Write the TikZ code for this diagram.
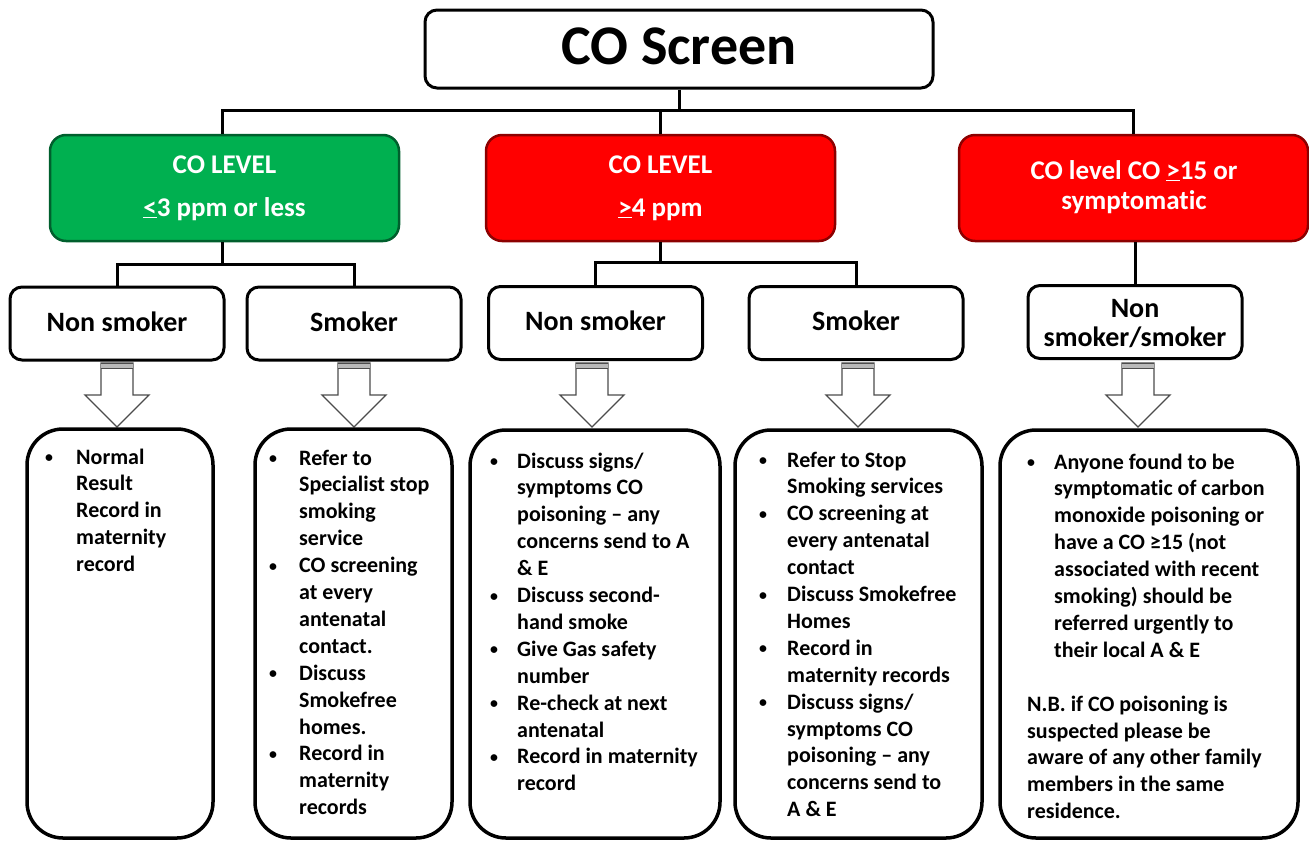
\documentclass[tikz,border=0pt]{standalone}
\usepackage{fontspec}
\setmainfont{Carlito}[Ligatures={TeX,NoCommon}]
\definecolor{cogreen}{RGB}{0,176,80}
\definecolor{cored}{RGB}{255,0,0}
\definecolor{cogreenedge}{RGB}{0,95,45}
\definecolor{crededge}{RGB}{140,0,0}
\newcommand{\bul}{\raisebox{1.5pt}{\scalebox{0.72}{\textbullet}}}
\newcommand{\restext}[1]{\fontsize{22pt}{26.9pt}\selectfont\bfseries
  \begin{tabular}[t]{@{}l@{}l@{}}#1\end{tabular}}
\begin{document}
\begin{tikzpicture}[x=1pt,y=-1pt,
  conn/.style={line width=3pt},
  topbox/.style={draw, line width=3pt, rounded corners=12pt, fill=white, inner sep=0pt},
  lvlbox/.style={line width=2.5pt, rounded corners=16pt, inner sep=0pt,
    minimum width=349pt, minimum height=106pt},
  subbox/.style={draw, line width=3pt, rounded corners=12pt, fill=white, inner sep=0pt,
    minimum width=214pt, minimum height=73pt},
  resbox/.style={draw, line width=3.5pt, rounded corners=36pt, inner sep=0pt},
  lvltext/.style={anchor=base, inner sep=0pt, text=white,
    font=\fontsize{27pt}{30pt}\selectfont\bfseries},
  subtext/.style={anchor=base, inner sep=0pt,
    font=\fontsize{28pt}{29pt}\selectfont\bfseries},
  restxt/.style={anchor=base west, inner sep=0pt},
  barrowpic/.pic={
    \draw[draw=black!70, line width=1.3pt, fill=white]
      (-16,0) -- (16,0) -- (16,32) -- (32,32) -- (0,64) -- (-32,32) -- (-16,32) -- cycle;
    \fill[gray!55] (-16,0) rectangle (16,5);
    \draw[black!70, line width=1pt] (-16,0) -- (16,0) (-16,5) -- (16,5);
  }
]
\useasboundingbox (0,0) rectangle (1309,841);

% top
\node[topbox, minimum width=508pt, minimum height=78pt] (top) at (679,49) {};
\node[anchor=base, inner sep=0pt, font=\fontsize{56pt}{60pt}\selectfont\bfseries] (toptext) at (679,64) {CO Screen};

% level boxes
\node[lvlbox, fill=cogreen, draw=cogreenedge] (lvl1) at (224.5,188) {};
\node[lvlbox, fill=cored, draw=crededge] (lvl2) at (660.5,188) {};
\node[lvlbox, fill=cored, draw=crededge] (lvl3) at (1133.5,188) {};

\node[lvltext] (l1a) at (224.5,173) {CO LEVEL};
\node[lvltext] (l1b) at (224.5,216) {\underline{<}3 ppm or less};
\node[lvltext] (l2a) at (660.5,173) {CO LEVEL};
\node[lvltext] (l2b) at (660.5,216) {\underline{>}4 ppm};
\node[lvltext] (l3a) at (1134,179) {CO level CO \underline{>}15 or};
\node[lvltext] (l3b) at (1134,209) {symptomatic};

% connectors top -> levels
\coordinate (bus) at (0,110);
\draw[conn] (top.south) -- (top.south |- bus);
\draw[conn] (lvl1.north -| 222,0) -- (222,110) -- (lvl3.north |- bus) -- (lvl3.north);
\draw[conn] (lvl2.north) -- (lvl2.north |- bus);

% sub boxes
\node[subbox] (ns1) at (117,323.5) {};
\node[subbox] (sm1) at (354,323.5) {};
\node[subbox] (ns2) at (595.5,323) {};
\node[subbox] (sm2) at (856,323) {};
\node[subbox] (ns3) at (1135,322) {};

\node[subtext] (ns1t) at (117,331) {Non smoker};
\node[subtext] (sm1t) at (354,331) {Smoker};
\node[subtext] (ns2t) at (595.5,330) {Non smoker};
\node[subtext] (sm2t) at (856,330) {Smoker};
\node[subtext] (ns3a) at (1135,317) {Non};
\node[subtext] (ns3b) at (1135,346) {smoker/smoker};

% connectors levels -> sub boxes
\coordinate (bus1) at (0,264);
\coordinate (bus2) at (0,262);
\draw[conn] (lvl1.south -| 222,0) -- (222,264);
\draw[conn] (ns1.north) -- (ns1.north |- bus1) -- (sm1.north |- bus1) -- (sm1.north);
\draw[conn] (lvl2.south -| 660,0) -- (660,262);
\draw[conn] (ns2.north) -- (ns2.north |- bus2) -- (sm2.north |- bus2) -- (sm2.north);
\draw[conn] (lvl3.south -| ns3.north) -- (ns3.north);

% block arrows
\pic at (117,363) {barrowpic};
\pic at (354,363) {barrowpic};
\pic at (592,363) {barrowpic};
\pic at (858,363) {barrowpic};
\pic at (1138,363) {barrowpic};

% result boxes
\node[resbox, minimum width=186pt, minimum height=409pt] (r1) at (120,633.5) {};
\node[resbox, minimum width=197pt, minimum height=409pt] (r2) at (353.5,633.5) {};
\node[resbox, minimum width=250pt, minimum height=408pt] (r3) at (595,634) {};
\node[resbox, minimum width=247pt, minimum height=408pt] (r4) at (858.5,634) {};
\node[resbox, minimum width=298pt, minimum height=408pt] (r5) at (1149,634) {};

\node[restxt] (t1) at (45,464) {\restext{%
\makebox[31pt][l]{\bul}&Normal\\
&Result\\
&Record in\\
&maternity\\
&record}};

\node[restxt] (t2) at (269,465) {\restext{%
\makebox[30pt][l]{\bul}&Refer to\\
&Specialist stop\\
&smoking\\
&service\\
\bul&CO screening\\
&at every\\
&antenatal\\
&contact.\\
\bul&Discuss\\
&Smokefree\\
&homes.\\
\bul&Record in\\
&maternity\\
&records}};

\node[restxt] (t3) at (490,468) {\restext{%
\makebox[27pt][l]{\bul}&Discuss signs/\\
&symptoms CO\\
&poisoning – any\\
&concerns send to A\\
&\& E\\
\bul&Discuss second-\\
&hand smoke\\
\bul&Give Gas safety\\
&number\\
\bul&Re-check at next\\
&antenatal\\
\bul&Record in maternity\\
&record}};

\node[restxt] (t4) at (759,467) {\restext{%
\makebox[28pt][l]{\bul}&Refer to Stop\\
&Smoking services\\
\bul&CO screening at\\
&every antenatal\\
&contact\\
\bul&Discuss Smokefree\\
&Homes\\
\bul&Record in\\
&maternity records\\
\bul&Discuss signs/\\
&symptoms CO\\
&poisoning – any\\
&concerns send to\\
&A \& E}};

\node[restxt] (t5) at (1027,469) {\restext{%
\makebox[27pt][l]{\bul}&Anyone found to be\\
&symptomatic of carbon\\
&monoxide poisoning or\\
&have a CO ≥15 (not\\
&associated with recent\\
&smoking) should be\\
&referred urgently to\\
&their local A \& E\\
&\\
\multicolumn{2}{@{}l@{}}{N.B. if CO poisoning is}\\
\multicolumn{2}{@{}l@{}}{suspected please be}\\
\multicolumn{2}{@{}l@{}}{aware of any other family}\\
\multicolumn{2}{@{}l@{}}{members in the same}\\
\multicolumn{2}{@{}l@{}}{residence.}}};
\end{tikzpicture}
\end{document}
